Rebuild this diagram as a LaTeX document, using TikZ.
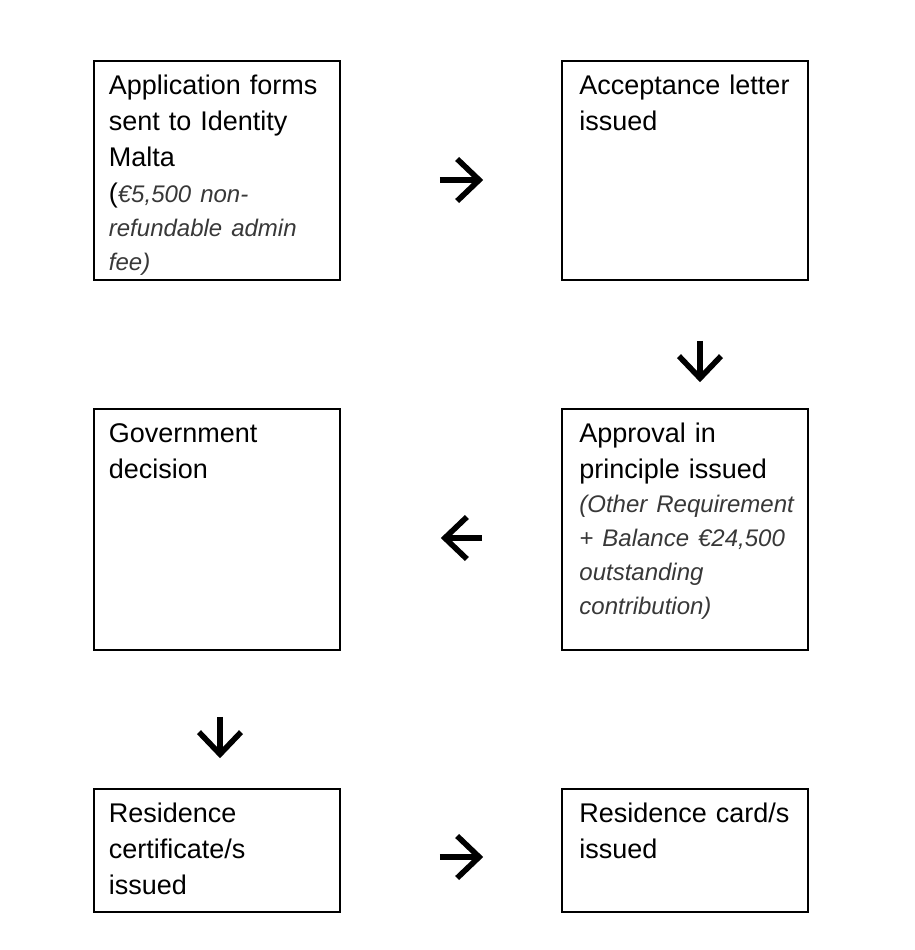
\documentclass[tikz,border=0pt]{standalone}
\usepackage{fontspec}
\setmainfont{Liberation Sans}
\usetikzlibrary{arrows.meta}
\definecolor{notegray}{HTML}{383838}
\newcommand{\notefont}{\fontsize{24}{34}\selectfont\itshape\color{notegray}}
\newcommand{\firstline}{\rule{0pt}{27pt}}
\tikzset{
  box/.style={draw=black, line width=1.6pt, rectangle, minimum width=246pt, inner sep=0pt},
  txt/.style={anchor=north west, inner sep=0pt, text width=235pt,
    execute at begin node={\raggedright},
    font=\fontsize{27}{36}\selectfont},
  arr/.style={line width=5.6pt, -{Straight Barb[length=22pt, width=42pt]}}
}
\begin{document}
\begin{tikzpicture}[x=1pt, y=-1pt]
\useasboundingbox[fill=white] (0,0) rectangle (914,950);
% boxes
\node[box, minimum height=219pt] (b1) at (217,170.5) {};
\node[box, minimum height=219pt] (b2) at (685,170.5) {};
\node[box, minimum height=241pt] (b3) at (217,529.5) {};
\node[box, minimum height=241pt] (b4) at (685,529.5) {};
\node[box, minimum height=123pt] (b5) at (217,850.5) {};
\node[box, minimum height=123pt] (b6) at (685,850.5) {};
% texts
\node[txt] (t1) at ([xshift=15.5pt,yshift=-7.5pt]b1.north west)
  {\firstline Application forms\par sent to Identity\par Malta\par
   ({\notefont €5,500 non-}\par
   {\notefont refundable admin\par fee)\par}};
\node[txt] (t2) at ([xshift=18pt,yshift=-7.5pt]b2.north west)
  {\firstline Acceptance letter\par issued\par};
\node[txt] (t3) at ([xshift=15.5pt,yshift=-7.5pt]b3.north west)
  {\firstline Government\par decision\par};
\node[txt] (t4) at ([xshift=18pt,yshift=-7.5pt]b4.north west)
  {\firstline Approval in\par principle issued\par
   {\notefont (Other Requirement\par + Balance €24,500\par outstanding\par contribution)\par}};
\node[txt] (t5) at ([xshift=15.5pt,yshift=-7.5pt]b5.north west)
  {\firstline Residence\par certificate/s\par issued\par};
\node[txt] (t6) at ([xshift=18pt,yshift=-7.5pt]b6.north west)
  {\firstline Residence card/s\par issued\par};
% arrows
\draw[arr, shorten <=99pt, shorten >=78pt] ([yshift=-9.5pt]b1.east) -- ([yshift=-9.5pt]b2.west);
\draw[arr, shorten <=60pt, shorten >=26pt] ([xshift=15pt]b2.south) -- ([xshift=15pt]b4.north);
\draw[arr, shorten <=79pt, shorten >=100pt] ([yshift=-8.5pt]b4.west) -- ([yshift=-8.5pt]b3.east);
\draw[arr, shorten <=66pt, shorten >=30pt] ([xshift=3pt]b3.south) -- ([xshift=3pt]b5.north);
\draw[arr, shorten <=99pt, shorten >=78pt] ([yshift=-6.5pt]b5.east) -- ([yshift=-6.5pt]b6.west);
\end{tikzpicture}
\end{document}
